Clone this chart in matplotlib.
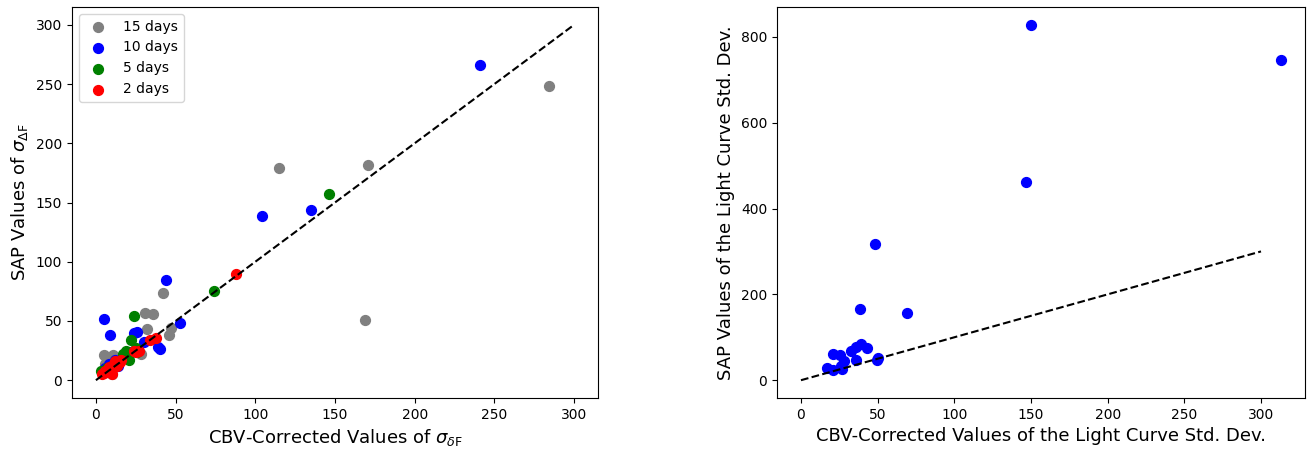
import matplotlib
matplotlib.use("Agg")
import matplotlib.pyplot as plt

# left panel: sigma values per cadence window (CBV-corrected x, SAP y)
gray_x = [284, 171, 115, 169, 42, 31, 36, 47, 46, 32, 5, 11, 28, 4, 6, 8, 15, 20, 10]
gray_y = [248, 182, 179, 51, 74, 57, 56, 44, 38, 43, 21, 21, 22, 8, 14, 12, 17, 22, 5]

blue_x = [241, 104, 135, 44, 5, 53, 9, 24, 26, 30, 40, 39, 12, 18, 8, 6, 14, 22]
blue_y = [266, 139, 144, 85, 52, 48, 38, 40, 41, 32, 26, 28, 17, 20, 14, 10, 12, 24]

green_x = [146, 74, 24, 22, 19, 20, 26, 21, 3, 17, 25, 12, 7]
green_y = [157, 75, 54, 34, 25, 19, 24, 17, 8, 22, 27, 14, 10]

red_x = [88, 34, 38, 27, 4, 6, 8, 10, 11, 13, 15, 9, 12, 5, 16, 25, 24]
red_y = [90, 34, 36, 25, 5, 8, 11, 5, 13, 12, 15, 9, 16, 6, 17, 24, 25]

# right panel: light curve std. dev.
std_x = [150, 313, 147, 48, 38.6, 69, 39, 43, 36, 32.7, 20.6, 25.4, 28, 35.7, 50, 49.5, 17.3, 21, 26.4, 27]
std_y = [828, 745, 462, 318, 166, 156, 85, 75, 78, 68, 60, 58, 45, 46, 52, 46, 29, 23, 33, 27]

one_to_one = [0, 300]

fig = plt.figure(figsize=(13.14, 4.5), dpi=100)
ax1 = fig.add_axes([0.0548, 0.1156, 0.4003, 0.8688])
ax2 = fig.add_axes([0.5913, 0.1156, 0.4018, 0.8688])

ms = 50
ax1.scatter(gray_x, gray_y, s=ms, color='gray', label='15 days', zorder=2)
ax1.scatter(blue_x, blue_y, s=ms, color='blue', label='10 days', zorder=2)
ax1.scatter(green_x, green_y, s=ms, color='green', label='5 days', zorder=2)
ax1.scatter(red_x, red_y, s=ms, color='red', label='2 days', zorder=2)
ax1.plot(one_to_one, one_to_one, 'k--', lw=1.5, zorder=3)
ax1.set_xlabel(r'CBV-Corrected Values of $\sigma_{\delta \mathrm{F}}$', fontsize=13)
ax1.set_ylabel(r'SAP Values of $\sigma_{\Delta \mathrm{F}}$', fontsize=13)
ax1.legend(loc='upper left')

ax2.scatter(std_x, std_y, s=ms, color='blue', zorder=2)
ax2.plot(one_to_one, one_to_one, 'k--', lw=1.5, zorder=3)
ax2.set_xlabel('CBV-Corrected Values of the Light Curve Std. Dev.', fontsize=13)
ax2.set_ylabel('SAP Values of the Light Curve Std. Dev.', fontsize=13)

fig.savefig('out.png', dpi=100)
